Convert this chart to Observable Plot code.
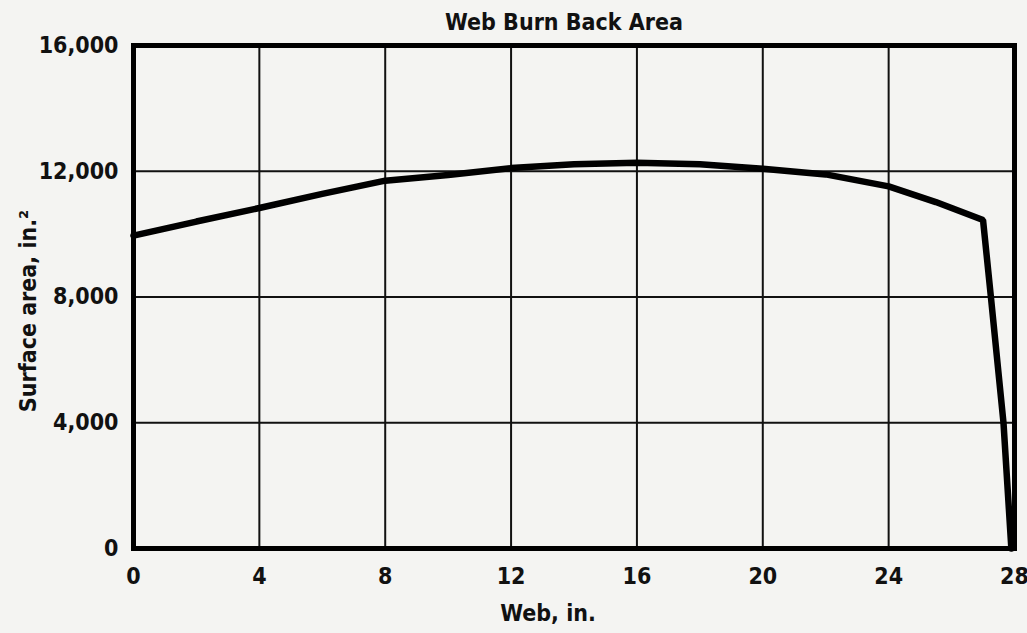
<!DOCTYPE html>
<html>
<head>
<meta charset="utf-8">
<script src="https://cdn.jsdelivr.net/npm/d3@7"></script>
<script src="https://cdn.jsdelivr.net/npm/@observablehq/plot@0.6"></script>
<style>
  html, body { margin: 0; padding: 0; background: #f4f4f2; }
  body { width: 1027px; height: 633px; overflow: hidden; font-family: "Liberation Sans Narrow", "DejaVu Sans Condensed", "Liberation Sans", sans-serif; }
  #title { box-sizing: border-box; height: 36px; padding-top: 11px; padding-left: 101px; text-align: center; font-size: 23px; line-height: 1; font-weight: bold; color: #111; font-stretch: condensed; }
</style>
</head>
<body>
<div id="title">Web Burn Back Area</div>
<div id="chart"></div>
<script>
// Web (in.) and burn-back surface area (in.²)
const web  = [0, 2, 4, 6, 8, 10, 12, 14, 16, 18, 20, 22, 24, 25.5, 27.0, 27.25, 27.65, 27.9];
const area = [9950, 10400, 10830, 11280, 11700, 11880, 12100, 12220, 12270, 12220, 12080, 11900, 11520, 11020, 10450, 8000, 4000, 0];
const xTicks = [0, 4, 8, 12, 16, 20, 24, 28];
const yTicks = [0, 4000, 8000, 12000, 16000];
const xLabel = "Web, in.";
const yLabel = "Surface area, in.²";

const data = web.map((w, i) => ({web: w, area: area[i]}));
const font = "\"Liberation Sans Narrow\", \"DejaVu Sans Condensed\", \"Liberation Sans\", sans-serif";

const chart = Plot.plot({
  width: 1027,
  height: 597,
  marginLeft: 133,
  marginRight: 13,
  marginTop: 9,
  marginBottom: 85,
  style: {background: "#f4f4f2", fontSize: "23px", fontFamily: font, fontWeight: "bold", color: "#111", overflow: "visible"},
  x: {domain: [0, 28], ticks: xTicks, tickSize: 0, tickPadding: 19, label: null},
  y: {domain: [0, 16000], ticks: yTicks, tickSize: 0, tickPadding: 15, tickFormat: d3.format(","), label: null},
  marks: [
    Plot.gridX(xTicks.slice(1, -1), {stroke: "#111", strokeOpacity: 1, strokeWidth: 2}),
    Plot.gridY(yTicks.slice(1, -1), {stroke: "#111", strokeOpacity: 1, strokeWidth: 2}),
    Plot.line(data, {x: "web", y: "area", stroke: "#000", strokeWidth: 6.5, strokeLinejoin: "miter"}),
    Plot.frame({stroke: "#000", strokeWidth: 5}),
    Plot.text([yLabel], {frameAnchor: "left", textAnchor: "middle", dx: -105, dy: 14, rotate: -90, fontSize: 23, fontWeight: "bold", fill: "#111"}),
    Plot.text([xLabel], {frameAnchor: "bottom", textAnchor: "middle", dx: -26, dy: 72, fontSize: 23, fontWeight: "bold", fill: "#111"})
  ]
});
document.getElementById("chart").append(chart);
</script>
</body>
</html>
